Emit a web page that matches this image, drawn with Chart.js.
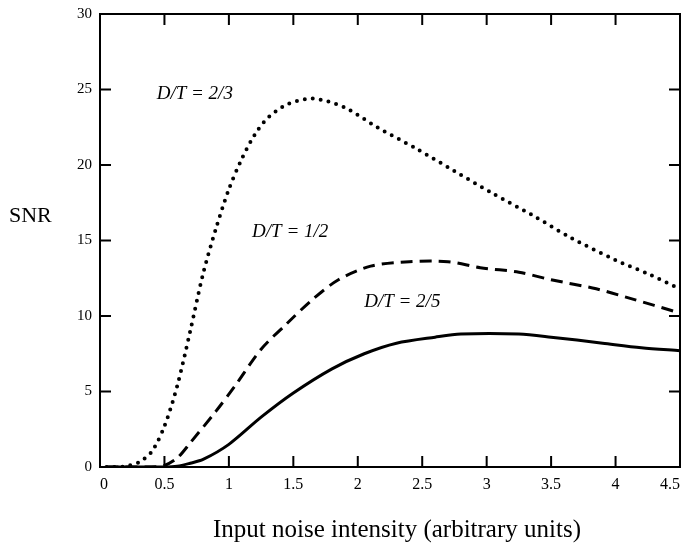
<!DOCTYPE html>
<html lang="en">
<head>
    <meta charset="UTF-8">
    <title>SNR vs input noise intensity</title>
    <script src="https://cdn.jsdelivr.net/npm/chart.js"></script>
    <style>
        html, body {
            margin: 0;
            background: #fff;
            overflow: hidden;
        }
        canvas {
            display: block;
        }
    </style>
</head>
<body>
<canvas id="snrChart" width="683" height="543"></canvas>

<script>
    // values
    const xTicks = [0, 0.5, 1, 1.5, 2, 2.5, 3, 3.5, 4, 4.5];
    const yTicks = [0, 5, 10, 15, 20, 25, 30];

    // D/T = 2/3 (dotted)
    const noiseA = [0.05, 0.1, 0.2, 0.3, 0.4, 0.5, 0.6, 0.7, 0.8, 0.9, 1.0, 1.1, 1.2, 1.3, 1.45, 1.65, 1.9, 2.15, 2.45, 2.75, 3.05, 3.35, 3.65, 4.0, 4.25, 4.5];
    const snrA = [0, 0, 0.05, 0.3, 1.0, 2.7, 5.4, 9.0, 12.8, 15.8, 18.4, 20.4, 22.0, 23.1, 24.0, 24.4, 23.8, 22.5, 21.1, 19.6, 18.1, 16.7, 15.2, 13.7, 12.8, 11.8];

    // D/T = 1/2 (dashed)
    const noiseB = [0.05, 0.4, 0.5, 0.6, 0.7, 0.9, 1.05, 1.25, 1.45, 1.65, 1.85, 2.1, 2.4, 2.7, 2.95, 3.25, 3.5, 3.85, 4.1, 4.5];
    const snrB = [0, 0, 0.1, 0.6, 1.6, 3.7, 5.4, 7.8, 9.5, 11.1, 12.4, 13.3, 13.6, 13.6, 13.2, 12.9, 12.4, 11.8, 11.2, 10.2];

    // D/T = 2/5 (solid)
    const noiseC = [0.05, 0.5, 0.6, 0.7, 0.8, 1.0, 1.25, 1.5, 1.8, 2.05, 2.3, 2.6, 2.8, 3.25, 3.5, 3.9, 4.2, 4.5];
    const snrC = [0, 0, 0.05, 0.25, 0.5, 1.5, 3.3, 4.9, 6.5, 7.5, 8.2, 8.6, 8.8, 8.8, 8.6, 8.2, 7.9, 7.7];

    const curveLabels = ['D/T = 2/3', 'D/T = 1/2', 'D/T = 2/5'];
    const labelPos = [[0.44, 24.4], [1.18, 15.2], [2.05, 10.6]];

    const toPoints = (xs, ys) => xs.map((x, i) => ({ x: x, y: ys[i] }));

    const serif = '"Liberation Serif", "DejaVu Serif", serif';

    // frame, inward ticks and text labels
    const decorPlugin = {
        id: 'decor',
        afterDraw(chart) {
            const ctx = chart.ctx;
            const a = chart.chartArea;
            const xs = chart.scales.x;
            const ys = chart.scales.y;
            const tl = 11;

            ctx.save();
            ctx.strokeStyle = '#000';
            ctx.lineWidth = 2;
            ctx.strokeRect(a.left, a.top, a.right - a.left, a.bottom - a.top);

            ctx.beginPath();
            xTicks.slice(1, -1).forEach(v => {
                const px = xs.getPixelForValue(v);
                ctx.moveTo(px, a.bottom);
                ctx.lineTo(px, a.bottom - tl);
                ctx.moveTo(px, a.top);
                ctx.lineTo(px, a.top + tl);
            });
            yTicks.slice(1, -1).forEach(v => {
                const py = ys.getPixelForValue(v);
                ctx.moveTo(a.left, py);
                ctx.lineTo(a.left + tl, py);
                ctx.moveTo(a.right, py);
                ctx.lineTo(a.right - tl, py);
            });
            ctx.stroke();

            // curve labels
            ctx.fillStyle = '#000';
            ctx.font = 'italic 19px ' + serif;
            ctx.textAlign = 'left';
            ctx.textBaseline = 'alphabetic';
            curveLabels.forEach((t, i) => {
                ctx.fillText(t, xs.getPixelForValue(labelPos[i][0]), ys.getPixelForValue(labelPos[i][1]));
            });

            // y title
            ctx.font = '22px ' + serif;
            ctx.fillText('SNR', 9, 222);

            // x title
            ctx.font = '25px ' + serif;
            ctx.textAlign = 'center';
            ctx.fillText('Input noise intensity (arbitrary units)', 397, 537);
            ctx.restore();
        }
    };

    const config = {
        type: 'scatter',
        data: {
            datasets: [
                {
                    label: curveLabels[0],
                    data: toPoints(noiseA, snrA),
                    showLine: true,
                    borderColor: '#000',
                    borderWidth: 4,
                    borderDash: [0, 8],
                    borderCapStyle: 'round',
                    pointRadius: 0,
                    tension: 0.3
                },
                {
                    label: curveLabels[1],
                    data: toPoints(noiseB, snrB),
                    showLine: true,
                    borderColor: '#000',
                    borderWidth: 3,
                    borderDash: [12, 7],
                    pointRadius: 0,
                    tension: 0.3
                },
                {
                    label: curveLabels[2],
                    data: toPoints(noiseC, snrC),
                    showLine: true,
                    borderColor: '#000',
                    borderWidth: 3,
                    pointRadius: 0,
                    tension: 0.3
                }
            ]
        },
        options: {
            responsive: false,
            animation: false,
            layout: {
                autoPadding: false,
                padding: { left: 0, right: 3, top: 14, bottom: 0 }
            },
            plugins: {
                legend: { display: false },
                tooltip: { enabled: false }
            },
            scales: {
                x: {
                    type: 'linear',
                    min: 0,
                    max: 4.5,
                    afterBuildTicks: s => { s.ticks = xTicks.map(v => ({ value: v })); },
                    afterFit: s => {
                        s.height = 76;
                        s.paddingLeft = 0;
                        s.paddingRight = 0;
                    },
                    grid: { display: false, drawTicks: false },
                    border: { display: false },
                    ticks: {
                        color: '#000',
                        padding: 8,
                        align: 'inner',
                        font: { family: serif, size: 16 },
                        callback: v => String(v)
                    }
                },
                y: {
                    min: 0,
                    max: 30,
                    afterBuildTicks: s => { s.ticks = yTicks.map(v => ({ value: v })); },
                    afterFit: s => {
                        s.width = 100;
                        s.paddingTop = 0;
                        s.paddingBottom = 0;
                    },
                    grid: { display: false, drawTicks: false },
                    border: { display: false },
                    ticks: {
                        color: '#000',
                        padding: 8,
                        font: { family: serif, size: 15 }
                    }
                }
            }
        },
        plugins: [decorPlugin]
    };

    new Chart(document.getElementById('snrChart'), config);
</script>
</body>
</html>
